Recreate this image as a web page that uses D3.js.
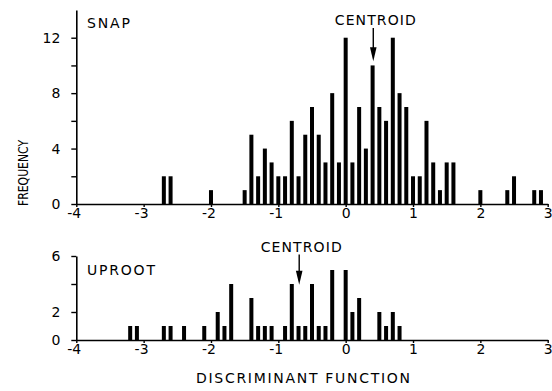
<!DOCTYPE html>
<html>
<head>
<meta charset="utf-8">
<script src="https://cdn.jsdelivr.net/npm/d3@7"></script>
<style>
  body { margin: 0; background: #fff; }
  text { font-family: "DejaVu Sans", "Liberation Sans", Arial, sans-serif; fill: #000; }
</style>
</head>
<body>
<svg id="chart" width="552" height="391"></svg>
<script>
// discriminant-function bins (0.1 wide) and frequencies
const snapBins = [-2.7, -2.6, -2.0, -1.5, -1.4, -1.3, -1.2, -1.1, -1.0, -0.9, -0.8, -0.7, -0.6, -0.5,
  -0.4, -0.3, -0.2, -0.1, 0.0, 0.1, 0.2, 0.3, 0.4, 0.5, 0.6, 0.7, 0.8, 0.9, 1.0, 1.1, 1.2, 1.3,
  1.4, 1.5, 1.6, 2.0, 2.4, 2.5, 2.8, 2.9];
const snapCounts = [2, 2, 1, 1, 5, 2, 4, 3, 2, 2, 6, 2, 5, 7,
  5, 3, 8, 3, 12, 3, 7, 4, 10, 7, 6, 12, 8, 7, 2, 2, 6, 3,
  1, 3, 3, 1, 1, 2, 1, 1];

const uprootBins = [-3.2, -3.1, -2.7, -2.6, -2.4, -2.1, -1.9, -1.8, -1.7, -1.4, -1.3, -1.2, -1.1,
  -0.9, -0.8, -0.7, -0.6, -0.5, -0.4, -0.3, -0.2, 0.0, 0.1, 0.2, 0.5, 0.6, 0.7, 0.8];
const uprootCounts = [1, 1, 1, 1, 1, 1, 2, 1, 4, 3, 1, 1, 1,
  1, 4, 1, 1, 4, 1, 1, 5, 5, 2, 3, 2, 1, 2, 1];

const xTicks = [-4, -3, -2, -1, 0, 1, 2, 3];
const snapYTicks = [0, 2, 4, 6, 8, 10, 12];
const snapYLabels = [0, 4, 8, 12];
const uprootYTicks = [0, 2, 4, 6];
const uprootYLabels = [0, 2, 6];

const snapCentroid = 0.41;
const uprootCentroid = -0.69;
const snapArrowTip = 10.3;
const uprootArrowTip = 3.95;

const svg = d3.select('#chart');
const barW = 4;

const x = d3.scaleLinear().domain([-4, 3]).range([76.3, 547.7]);

const panels = [
  { name: 'SNAP', nameW: 43, bins: snapBins, counts: snapCounts, yMax: 14, range: [204, 10],
    ticks: snapYTicks, labels: snapYLabels, centroid: snapCentroid, tip: snapArrowTip,
    nameY: 28, centY: 25 },
  { name: 'UPROOT', nameW: 68, bins: uprootBins, counts: uprootCounts, yMax: 6, range: [340, 256],
    ticks: uprootYTicks, labels: uprootYLabels, centroid: uprootCentroid, tip: uprootArrowTip,
    nameY: 275, centY: 251.5 }
];

panels.forEach(p => {
  const y = d3.scaleLinear().domain([0, p.yMax]).range(p.range);
  const g = svg.append('g');

  // bars
  g.selectAll('rect.bar')
    .data(p.bins.map((b, i) => ({ bin: b, count: p.counts[i] })))
    .enter()
    .append('rect')
    .attr('class', 'bar')
    .attr('x', d => x(d.bin) - barW / 2)
    .attr('y', d => y(d.count))
    .attr('width', barW)
    .attr('height', d => y(0) - y(d.count))
    .attr('fill', '#000');

  // x axis
  const xa = g.append('g')
    .attr('transform', 'translate(0,' + y(0) + ')')
    .call(d3.axisBottom(x).tickValues(xTicks).tickSize(3).tickSizeOuter(0).tickPadding(1)
      .tickFormat(d => d < 0 ? '-' + Math.abs(d) : String(d)));
  xa.attr('font-size', 14).attr('font-family', null);
  xa.selectAll('text')
    .attr('text-anchor', d => d < 0 ? 'end' : 'middle')
    .attr('x', d => d < 0 ? 4.4 : 0);

  // y axis
  const ya = g.append('g')
    .attr('transform', 'translate(' + x(-4) + ',0)')
    .call(d3.axisLeft(y).tickValues(p.ticks).tickSize(5).tickSizeOuter(0).tickPadding(11)
      .tickFormat(d => p.labels.includes(d) ? String(d) : ''));
  ya.attr('font-size', 14).attr('font-family', null);

  [xa, ya].forEach(a => {
    a.selectAll('path, line').attr('stroke', '#000').attr('stroke-width', 1.4);
    a.select('.domain').attr('stroke-width', 1.6);
  });

  // panel name
  g.append('text')
    .attr('x', 87)
    .attr('y', p.nameY)
    .attr('textLength', p.nameW)
    .style('font-size', '14px')
    .text(p.name);

  // centroid label and arrow
  const cx = x(p.centroid);
  g.append('text')
    .attr('x', cx - 38.5)
    .attr('y', p.centY)
    .attr('textLength', 81)
    .style('font-size', '14px')
    .text('CENTROID');
  const tipY = y(p.tip);
  g.append('line')
    .attr('x1', cx).attr('x2', cx)
    .attr('y1', p.centY + 3).attr('y2', tipY - 8)
    .attr('stroke', '#000').attr('stroke-width', 1.4);
  g.append('path')
    .attr('d', d3.line()([[cx - 3.3, tipY - 14], [cx + 3.3, tipY - 14], [cx, tipY]]) + 'Z')
    .attr('fill', '#000');
});

// axis titles
svg.append('text')
  .attr('transform', 'translate(28,173) rotate(-90)')
  .attr('text-anchor', 'middle')
  .attr('textLength', 66)
  .attr('lengthAdjust', 'spacingAndGlyphs')
  .style('font-size', '14px')
  .text('FREQUENCY');

svg.append('text')
  .attr('x', 196)
  .attr('y', 383)
  .attr('textLength', 214)
  .style('font-size', '14px')
  .text('DISCRIMINANT  FUNCTION');
</script>
</body>
</html>
